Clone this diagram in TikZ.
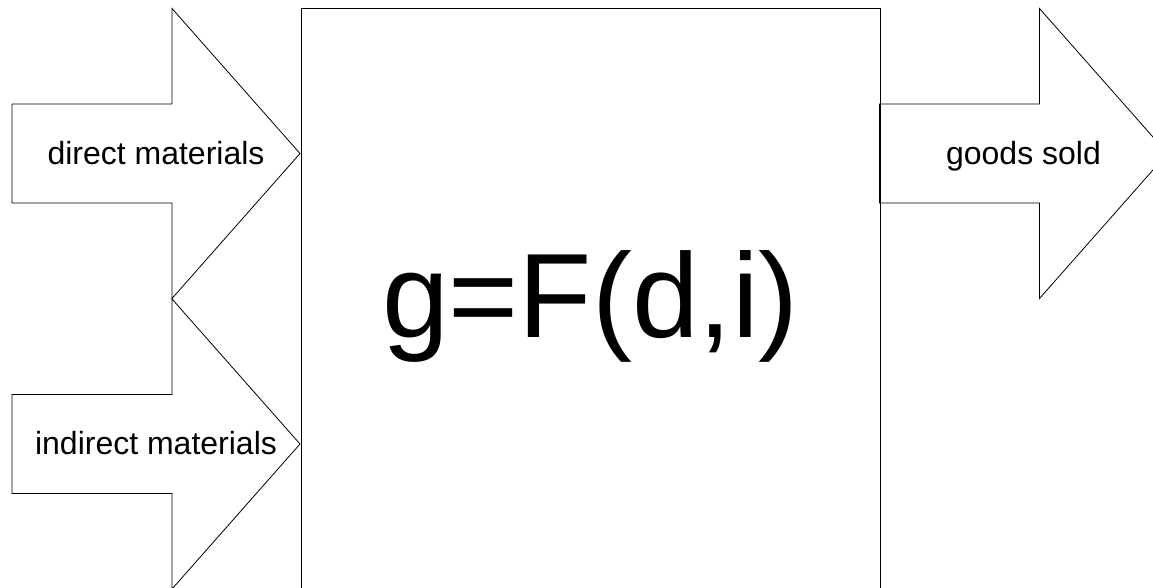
\documentclass[tikz,border=0pt]{standalone}
\usepackage{fontspec}
\setmainfont{Liberation Sans}
\usetikzlibrary{positioning}

\begin{document}
\begin{tikzpicture}[
    x=1pt, y=-1pt,
    outline/.style={draw=black, line width=0.8pt, line join=miter},
    machine/.style={rectangle, draw, line width=0.8pt, minimum width=579pt, minimum height=596pt, inner sep=0pt, font=\fontsize{120}{144}\selectfont},
    label/.style={anchor=base, font=\fontsize{32}{38}\selectfont}
]

\clip (0,0) rectangle (1153,587);

% Production function box
\node[machine] (plant) at (590.5,306) {g=F(d,i)};

% Input arrows
\foreach \y/\name/\txt in {153.5/direct/direct materials, 444/indirect/indirect materials} {
    \draw[outline] (12,\y-49.5) -- ++(160,0) -- ++(0,-95.5) -- ++(128,145)
        -- ++(-128,145) -- ++(0,-95.5) -- ++(-160,0) -- cycle;
    \node[label] (\name) at (156,\y+10.5) {\txt};
}

% Output arrow
\draw[outline] (879.5,104) -- ++(160,0) -- ++(0,-95.5) -- ++(128,145)
    -- ++(-128,145) -- ++(0,-95.5) -- ++(-160,0) -- cycle;
\node[label] (goods) at (1023.5,164) {goods sold};

\end{tikzpicture}
\end{document}
